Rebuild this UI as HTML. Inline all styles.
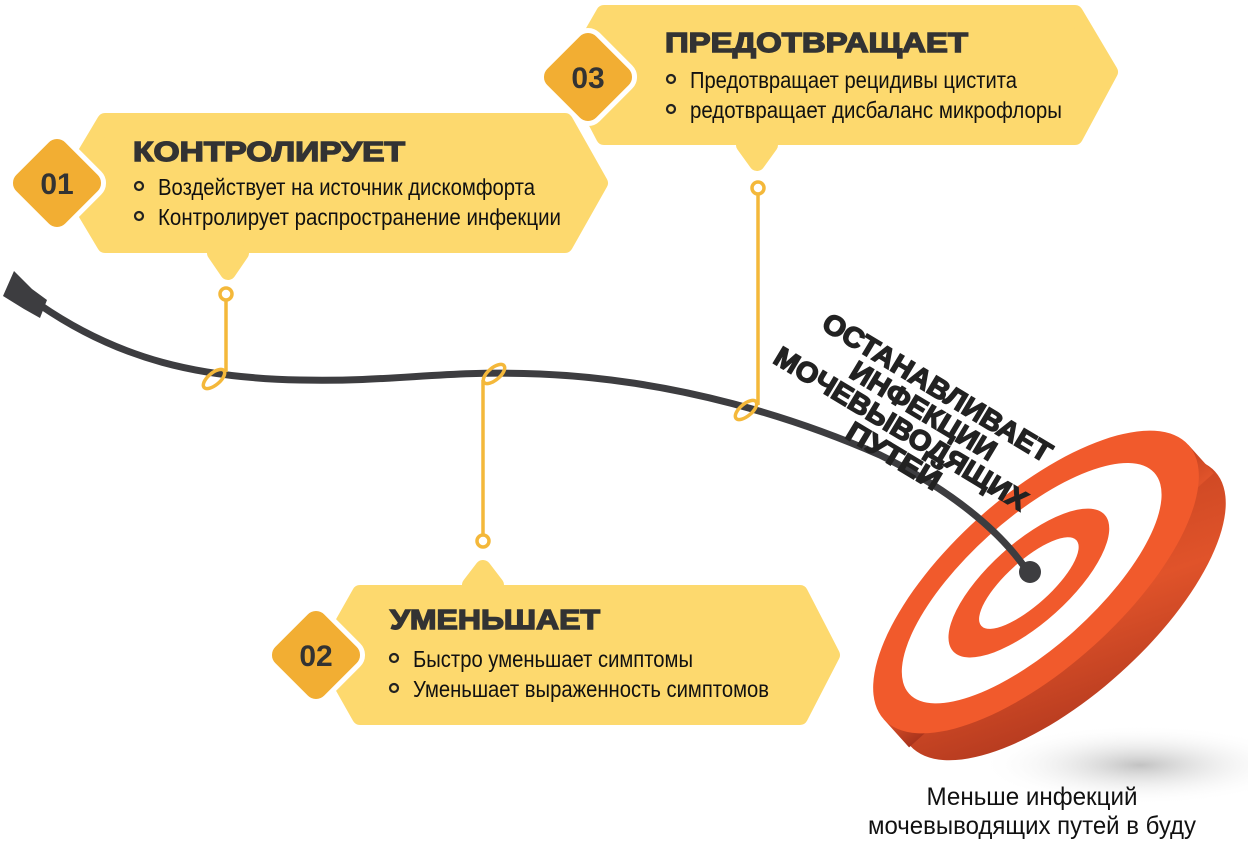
<!DOCTYPE html>
<html><head><meta charset="utf-8"><style>
html,body{margin:0;padding:0;background:#fff;}
svg{display:block;}
.t{font-family:"Liberation Sans",sans-serif;font-weight:bold;fill:#333;font-size:28px;stroke:#333;stroke-width:1.4px;}
.b{font-family:"Liberation Sans",sans-serif;font-size:23px;fill:#111;}
.n{font-family:"Liberation Sans",sans-serif;font-weight:bold;font-size:30px;fill:#333;}
.r{font-family:"Liberation Sans",sans-serif;font-weight:bold;font-size:28px;fill:#222;stroke:#222;stroke-width:1.5px;}
</style></head><body>
<svg width="1248" height="850" viewBox="0 0 1248 850" xmlns="http://www.w3.org/2000/svg">
<defs>
<radialGradient id="sh" cx="0.5" cy="0.5" r="0.5"><stop offset="0" stop-color="#999" stop-opacity="0.6"/><stop offset="1" stop-color="#fff" stop-opacity="0"/></radialGradient>
<linearGradient id="side" x1="0" y1="1" x2="1" y2="0"><stop offset="0" stop-color="#a8331c"/><stop offset="0.5" stop-color="#e0532a"/><stop offset="1" stop-color="#c0401f"/></linearGradient>
</defs>
<ellipse cx="1140" cy="765" rx="160" ry="40" fill="url(#sh)"/>
<g fill="#fdd96e" stroke="#fdd96e" stroke-width="16" stroke-linejoin="round">
<polygon points="105,121 565,121 600,183 565,245 105,245 68,183"/>
<polygon points="215,253 241,253 228,272"/>
<polygon points="604,13 1075,13 1110,72 1075,137 604,137 570,72"/>
<polygon points="744,145 770,145 757,163"/>
<polygon points="360,593 800,593 832,655 800,717 360,717 325,655"/>
<polygon points="470,585 496,585 483,568"/>
</g>
<g stroke="#fff" stroke-width="5" stroke-linejoin="round" fill="#f2ae33">
<rect x="20" y="146" width="74" height="74" rx="14" transform="rotate(45 57 183)"/>
<rect x="551" y="40" width="74" height="74" rx="14" transform="rotate(45 588 77)"/>
<rect x="279" y="618" width="74" height="74" rx="14" transform="rotate(45 316 655)"/>
</g>
<text class="n" x="57" y="194" text-anchor="middle">01</text>
<text class="n" x="588" y="88" text-anchor="middle">03</text>
<text class="n" x="316" y="666" text-anchor="middle">02</text>
<text class="t" x="133" y="161" textLength="272" lengthAdjust="spacingAndGlyphs">КОНТРОЛИРУЕТ</text>
<text class="b" x="158" y="195" textLength="377" lengthAdjust="spacingAndGlyphs">Воздействует на источник дискомфорта</text>
<text class="b" x="158" y="225" textLength="403" lengthAdjust="spacingAndGlyphs">Контролирует распространение инфекции</text>
<text class="t" x="665" y="52" textLength="303" lengthAdjust="spacingAndGlyphs">ПРЕДОТВРАЩАЕТ</text>
<text class="b" x="690" y="88" textLength="327" lengthAdjust="spacingAndGlyphs">Предотвращает рецидивы цистита</text>
<text class="b" x="690" y="118" textLength="372" lengthAdjust="spacingAndGlyphs">редотвращает дисбаланс микрофлоры</text>
<text class="t" x="390" y="629" textLength="210" lengthAdjust="spacingAndGlyphs">УМЕНЬШАЕТ</text>
<text class="b" x="413" y="667" textLength="280" lengthAdjust="spacingAndGlyphs">Быстро уменьшает симптомы</text>
<text class="b" x="413" y="697" textLength="356" lengthAdjust="spacingAndGlyphs">Уменьшает выраженность симптомов</text>
<g fill="none" stroke="#222" stroke-width="2.2">
<circle cx="139" cy="186" r="4"/><circle cx="139" cy="216" r="4"/>
<circle cx="671" cy="79" r="4"/><circle cx="671" cy="109" r="4"/>
<circle cx="394" cy="658" r="4"/><circle cx="394" cy="688" r="4"/>
</g>
<g transform="translate(1036,582) rotate(-42)">
<ellipse cx="2" cy="38" rx="205" ry="86" fill="url(#side)"/>
<rect x="-205" y="0" width="410" height="38" fill="url(#side)"/>
<ellipse cx="0" cy="0" rx="205" ry="86" fill="#f15a2c"/>
<ellipse cx="-4" cy="-2" rx="165" ry="64" fill="#fff"/>
<ellipse cx="-6" cy="-4" rx="102" ry="40" fill="#f15a2c"/>
<ellipse cx="-6" cy="-4" rx="64" ry="22" fill="#fff"/>
</g>
<path d="M40,305 C120,360 200,378 300,380 C400,382 440,370 540,374 C680,380 800,420 880,455 C950,490 1000,530 1028,572" fill="none" stroke="#3d3d40" stroke-width="7" stroke-linecap="round"/>
<polygon points="3,296 14,271 32,289 47,300 40,318 24,309" fill="#3d3d40"/>
<circle cx="1030" cy="572" r="11" fill="#3d3d40"/>
<g fill="none" stroke="#f4b83a" stroke-width="3.5">
<circle cx="226" cy="294" r="6"/>
<line x1="226" y1="300" x2="226" y2="372"/>
<ellipse cx="214" cy="379" rx="13" ry="6" transform="rotate(-40 214 379)"/>
<circle cx="483" cy="541" r="6"/>
<line x1="483" y1="535" x2="483" y2="380"/>
<ellipse cx="494" cy="374" rx="13" ry="6" transform="rotate(-40 494 374)"/>
<circle cx="758" cy="188" r="6"/>
<line x1="758" y1="194" x2="758" y2="405"/>
<ellipse cx="746" cy="410" rx="13" ry="6" transform="rotate(-40 746 410)"/>
</g>
<g transform="rotate(31 937 388)">
<text class="r" x="937" y="397" text-anchor="middle" textLength="262" lengthAdjust="spacingAndGlyphs">ОСТАНАВЛИВАЕТ</text>
<text class="r" x="937" y="424" text-anchor="middle" textLength="165" lengthAdjust="spacingAndGlyphs">ИНФЕКЦИИ</text>
<text class="r" x="927" y="451" text-anchor="middle" textLength="290" lengthAdjust="spacingAndGlyphs">МОЧЕВЫВОДЯЩИХ</text>
<text class="r" x="935" y="478" text-anchor="middle" textLength="105" lengthAdjust="spacingAndGlyphs">ПУТЕЙ</text>
</g>
<text class="b" x="1032" y="805" text-anchor="middle" style="font-size:25px" textLength="211" lengthAdjust="spacingAndGlyphs">Меньше инфекций</text>
<text class="b" x="1032" y="834" text-anchor="middle" style="font-size:25px" textLength="328" lengthAdjust="spacingAndGlyphs">мочевыводящих путей в буду</text>
</svg>
</body></html>
